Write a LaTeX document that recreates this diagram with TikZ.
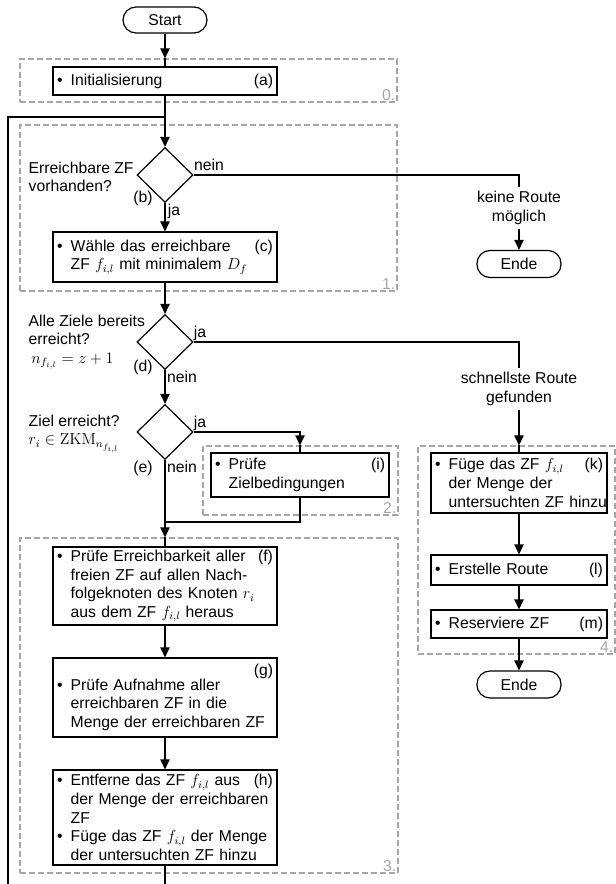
\documentclass[tikz,border=0pt]{standalone}
\usepackage[no-math]{fontspec}
\setmainfont{Liberation Sans}
\usetikzlibrary{arrows.meta,shapes.geometric}
\definecolor{grp}{HTML}{A6A6A6}
% bullet line and continuation line inside a process box
\newcommand\bl[1]{\mbox{\makebox[10.25pt][l]{\textbullet}#1}}
\newcommand\cl[1]{\mbox{\hspace*{10.25pt}#1}}

\begin{document}
\begin{tikzpicture}[x=0.75pt,y=-0.75pt,
  every node/.style={font=\fontsize{11.8}{14}\selectfont},
  line/.style={line width=0.9pt},
  arr/.style={line width=0.9pt,-{Triangle[length=7.5pt,width=7pt]}},
  box/.style={draw,line width=0.9pt,rectangle,inner xsep=3pt,inner ysep=0pt,align=left},
  wide/.style={box,text width=162pt},
  narrow/.style={box,text width=126pt},
  term/.style={draw,line width=0.9pt,rectangle,rounded corners=9.75pt,
    minimum width=63pt,minimum height=19.5pt,inner sep=0pt},
  decision/.style={diamond,draw,line width=0.9pt,minimum width=42pt,
    minimum height=41.25pt,inner sep=0pt},
  group/.style={draw=grp,line width=0.9pt,dash pattern=on 4.5pt off 2.25pt,
    rectangle,inner sep=0pt},
  grouplab/.style={text=grp,inner sep=1.5pt,anchor=south east},
  tag/.style={inner sep=0pt},
]
\useasboundingbox (0,0) rectangle (616,884);

% phase frames
\node[group,minimum width=282.75pt,minimum height=32.25pt] (g0) at (208.5,80.5) {};
\node[group,minimum width=282.75pt,minimum height=124.5pt] (g1) at (208.5,208) {};
\node[group,minimum width=146.25pt,minimum height=51.75pt] (g2) at (300.5,480.5) {};
\node[group,minimum width=283.5pt,minimum height=251.25pt] (g3) at (209,705.5) {};
\node[group,minimum width=147.75pt,minimum height=156pt] (g4) at (516.5,550) {};
\node[grouplab] (g0n) at (g0.south east) {0.};
\node[grouplab] (g1n) at (g1.south east) {1.};
\node[grouplab] (g2n) at (g2.south east) {2.};
\node[grouplab] (g3n) at (g3.south east) {3.};
\node[grouplab] (g4n) at (g4.south east) {4.};

% terminals
\node[term] (start) at (165,20) {Start};
\node[term,minimum height=20.25pt] (end1) at (519,264) {Ende};
\node[term,minimum height=20.25pt] (end2) at (519,684.5) {Ende};

% process boxes
\node[wide,minimum height=21pt] (a) at (165,81) {\bl{Initialisierung}\hfill(a)};
\node[wide,minimum height=37.5pt] (c) at (165,257)
  {\bl{Wähle das erreichbare}\hfill(c)\\\cl{ZF $f_{i,l}$ mit minimalem $D_f$}};
\node[box,text width=127.5pt,minimum height=33pt] (i) at (300,475)
  {\bl{Prüfe}\hfill(i)\\\cl{Zielbedingungen}};
\node[wide,minimum height=58.5pt] (f) at (165,586)
  {\bl{Prüfe Erreichbarkeit aller}\hfill(f)\\\cl{freien ZF auf allen Nach-}\\
   \cl{folgeknoten des Knoten $r_i$}\\\cl{aus dem ZF $f_{i,l}$ heraus}};
\node[wide,minimum height=59.25pt] (g) at (165,697.5)
  {\mbox{}\hfill(g)\\[-3pt]\bl{Prüfe Aufnahme aller}\\\cl{erreichbaren ZF in die}\\
   \cl{Menge der erreichbaren ZF}};
\node[wide,minimum height=71.25pt] (h) at (165,817.5)
  {\bl{Entferne das ZF $f_{i,l}$ aus}\hfill(h)\\\cl{der Menge der erreichbaren}\\
   \cl{ZF}\\\bl{Füge das ZF $f_{i,l}$ der Menge}\\\cl{der untersuchten ZF hinzu}};
\node[narrow,minimum height=45pt] (k) at (519,483)
  {\bl{Füge das ZF $f_{i,l}$}\hfill(k)\\\cl{der Menge der}\\\cl{untersuchten ZF hinzu}};
\node[narrow,minimum height=22.5pt] (l) at (519,570) {\bl{Erstelle Route}\hfill(l)};
\node[narrow,minimum height=21pt] (m) at (519,624) {\bl{Reserviere ZF}\hfill(m)};

% decisions
\node[decision] (b) at (165,175) {};
\node[decision] (d) at (165,342) {};
\node[decision] (e) at (165,432) {};

% decision questions
\node[anchor=west,align=left] (tb) at (24,177) {Erreichbare ZF\\vorhanden?};
\node[anchor=west,align=left] (td) at (24,342)
  {Alle Ziele bereits\\erreicht?\\\,$n_{f_{i,l}} = z+1$};
\node[anchor=west,align=left] (te) at (24,434)
  {Ziel erreicht?\\$r_i \in \mathrm{ZKM}_{n_{f_{i,l}}}$};

% branch tags
\node[tag] (bl) at (143,198) {(b)};
\node[tag] (bja) at (174,211) {ja};
\node[tag] (bnein) at (209,165) {nein};
\node[tag] (dl) at (143,367) {(d)};
\node[tag] (dja) at (200,333) {ja};
\node[tag] (dnein) at (182,377) {nein};
\node[tag] (el) at (143,468) {(e)};
\node[tag] (eja) at (200,423) {ja};
\node[tag] (enein) at (182,467) {nein};

% outcome texts
\node[align=center] (kr) at (519,208) {keine Route\\möglich};
\node[align=center] (sr) at (519,389) {schnellste Route\\gefunden};

% loop-back and joints
\coordinate (join) at (165,117);
\coordinate (loopL) at (8,884);
\coordinate (hEnd) at (165,884);
\coordinate (merge) at (165,522);

% connectors
\draw[arr] (start.south) -- (start.south |- g0.north);
\draw[line] (start.south |- g0.north) -- (a.north);
\draw[arr] (a.south) -- (b.north);
\draw[line] (loopL) |- (join);
\draw[line] (b.east) -| (kr.north);
\draw[arr] (kr.south) -- (end1.north);
\draw[arr] (b.south) -- (c.north);
\draw[arr] (c.south) -- (d.north);
\draw[line] (d.east) -| (sr.north);
\draw[arr] (sr.south) -- (sr.south |- g4.north);
\draw[line] (sr.south |- g4.north) -- (k.north);
\draw[arr] (d.south) -- (e.north);
\draw[arr] (e.east) -| (i.north |- g2.north);
\draw[line] (i.north |- g2.north) -- (i.north);
\draw[line] (i.south) |- (merge);
\draw[arr] (e.south) -- (e.south |- g3.north);
\draw[line] (e.south |- g3.north) -- (f.north);
\draw[arr] (f.south) -- (g.north);
\draw[arr] (g.south) -- (h.north);
\draw[line] (h.south) -- (hEnd);
\draw[arr] (k.south) -- (l.north);
\draw[arr] (l.south) -- (m.north);
\draw[arr] (m.south) -- (end2.north);
\end{tikzpicture}
\end{document}
